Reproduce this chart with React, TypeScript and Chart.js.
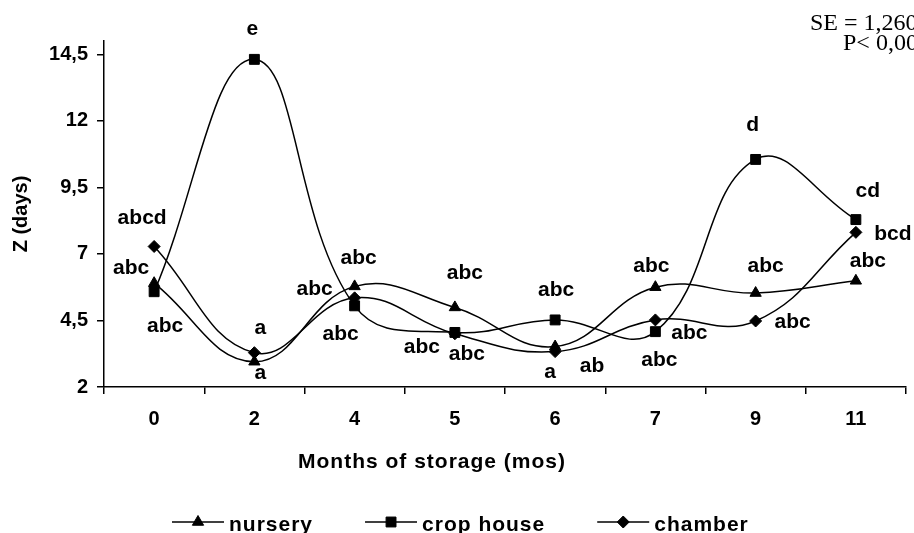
import React, { useEffect, useRef } from 'react';
import { Chart, registerables } from 'chart.js';
import { drawPoint } from 'chart.js/helpers';

Chart.register(...registerables);

// ---------- data ----------
const categories = ['0', '2', '4', '5', '6', '7', '9', '11'];
const seriesNames = ['nursery', 'crop house', 'chamber'];
const nursery = [5.9, 2.95, 5.78, 4.99, 3.52, 5.75, 5.53, 5.99];
const cropHouse = [5.58, 14.31, 5.05, 4.05, 4.52, 4.08, 10.55, 8.29];
const chamber = [7.28, 3.29, 5.35, 4.0, 3.33, 4.52, 4.48, 7.81];
const yTickValues = [2, 4.5, 7, 9.5, 12, 14.5];

const nurseryLetters = ['abc', 'a', 'abc', 'abc', 'ab', 'abc', 'abc', 'abc'];
const cropHouseLetters = ['abc', 'e', 'abc', 'abc', 'abc', 'abc', 'd', 'cd'];
const chamberLetters = ['abcd', 'a', 'abc', 'abc', 'a', 'abc', 'abc', 'bcd'];

const statsLines = ['SE = 1,260', 'P< 0,00'];
const xTitle = 'Months of storage (mos)';
const yTitle = 'Z (days)';

// ---------- styles ----------
const FONT = '"Liberation Sans", Arial, Helvetica, sans-serif';
const SERIF = '"Liberation Serif", "Times New Roman", serif';
const pointStyles = ['triangle', 'rect', 'rectRot'];
const pointRadii = [6.5, 7, 6];

// label offsets (pixels from each point) per series
const nurseryOffsets = [[-23, -15], [6, 11], [4, -28], [10, -34], [37, 20], [-4, -21], [10, -27], [12, -20]];
const cropHouseOffsets = [[11, 34], [-2, -30], [-14, 28], [-33, 15], [1, -30], [34, 2], [-3, -34], [12, -28]];
const chamberOffsets = [[-12, -28], [6, -24], [-40, -9], [12, 20], [-5, 21], [4, 40], [37, 1], [37, 2]];

const allValues = [nursery, cropHouse, chamber];
const allLetters = [nurseryLetters, cropHouseLetters, chamberLetters];
const allOffsets = [nurseryOffsets, cropHouseOffsets, chamberOffsets];

const annotatePlugin = {
  id: 'annotate',
  afterDatasetsDraw(chart: any) {
    const ctx = chart.ctx as CanvasRenderingContext2D;
    ctx.save();
    ctx.fillStyle = '#000';
    ctx.strokeStyle = '#000';

    // significance letters
    ctx.font = `bold 21px ${FONT}`;
    ctx.textAlign = 'center';
    ctx.textBaseline = 'middle';
    allLetters.forEach((letters, di) => {
      const meta = chart.getDatasetMeta(di);
      letters.forEach((t, i) => {
        const p = meta.data[i];
        const [dx, dy] = allOffsets[di][i];
        ctx.fillText(t, p.x + dx, p.y + dy);
      });
    });

    // statistics note (top right)
    ctx.font = `24px ${SERIF}`;
    ctx.textAlign = 'left';
    ctx.textBaseline = 'alphabetic';
    ctx.fillText(statsLines[0], 810, 30);
    ctx.fillText(statsLines[1], 843, 50);

    // x axis title
    (ctx as any).letterSpacing = '1px';
    ctx.font = `bold 21px ${FONT}`;
    ctx.textAlign = 'center';
    ctx.fillText(xTitle, 432, 468);

    // legend
    ctx.textAlign = 'left';
    let x = 172;
    const ly = 522;
    seriesNames.forEach((name, i) => {
      ctx.lineWidth = 1.5;
      ctx.beginPath();
      ctx.moveTo(x, ly);
      ctx.lineTo(x + 52, ly);
      ctx.stroke();
      ctx.lineWidth = 1;
      drawPoint(ctx, { pointStyle: pointStyles[i], radius: pointRadii[i], borderWidth: 1, rotation: 0 } as any, x + 26, ly);
      const tx = x + 57;
      ctx.fillText(name, tx, 531);
      x = tx + ctx.measureText(name).width + 52;
    });
    ctx.restore();
  },
};

export default function App() {
  const canvasRef = useRef<HTMLCanvasElement | null>(null);

  useEffect(() => {
    if (!canvasRef.current) return;
    const tickFont = { family: FONT, size: 20, weight: 'bold' as const };
    const chart = new Chart(canvasRef.current, {
      type: 'line',
      data: {
        labels: categories,
        datasets: allValues.map((vals, i) => ({
          label: seriesNames[i],
          data: vals,
          borderColor: '#000',
          backgroundColor: '#000',
          borderWidth: 1.5,
          tension: 0.42,
          fill: false,
          pointStyle: pointStyles[i] as any,
          pointRadius: pointRadii[i],
          pointBorderWidth: 1,
          pointBackgroundColor: '#000',
          pointBorderColor: '#000',
        })),
      },
      options: {
        responsive: true,
        maintainAspectRatio: false,
        animation: false,
        events: [],
        layout: { padding: { top: 41, right: 7, bottom: 58, left: 0 } },
        plugins: {
          legend: { display: false },
          tooltip: { enabled: false },
          title: { display: false },
        },
        scales: {
          x: {
            type: 'category',
            offset: true,
            grid: {
              offset: true,
              drawOnChartArea: false,
              drawTicks: true,
              tickLength: 7,
              color: '#000',
              lineWidth: 1.5,
            },
            border: { display: true, color: '#000', width: 1.5 },
            ticks: { color: '#000', font: tickFont, padding: 13, maxRotation: 0, autoSkip: false },
            afterFit: (s: any) => {
              s.height = 88;
            },
          },
          y: {
            type: 'linear',
            min: 2,
            max: 15,
            afterBuildTicks: (s: any) => {
              s.ticks = yTickValues.map((v) => ({ value: v }));
            },
            ticks: {
              color: '#000',
              font: tickFont,
              padding: 9,
              callback: (v: any) => String(v).replace('.', ','),
            },
            grid: {
              drawOnChartArea: false,
              drawTicks: true,
              tickLength: 7,
              color: '#000',
              lineWidth: 1.5,
            },
            border: { display: true, color: '#000', width: 1.5 },
            title: {
              display: true,
              text: yTitle,
              color: '#000',
              font: { family: FONT, size: 20, weight: 'bold' },
              padding: { top: 9, bottom: 0 },
            },
            afterFit: (s: any) => {
              s.width = 104;
            },
          },
        },
      },
      plugins: [annotatePlugin],
    });
    return () => chart.destroy();
  }, []);

  return (
    <div style={{ position: 'absolute', left: 0, top: 0, width: 914, height: 533, background: '#fff' }}>
      <canvas ref={canvasRef} />
    </div>
  );
}
